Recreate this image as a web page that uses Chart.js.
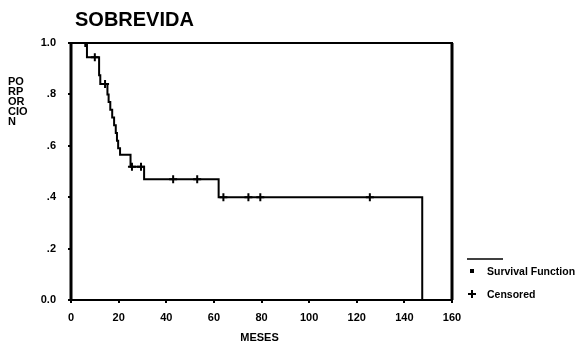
<!DOCTYPE html>
<html>
<head>
<meta charset="utf-8">
<script src="https://cdn.jsdelivr.net/npm/chart.js@4.4.0/dist/chart.umd.min.js"></script>
<style>
  html, body { margin: 0; padding: 0; background: #fff; }
  #wrap { width: 586px; height: 353px; position: relative; }
</style>
</head>
<body>
<div id="wrap"><canvas id="chart"></canvas></div>
<script>
// Kaplan-Meier curve (month of event, survival after event)
const kmMonths   = [0, 6.7, 11.8, 12.3, 15.3, 15.8, 16.5, 17.3, 18.1, 18.8, 19.3, 19.8, 20.6, 25.0, 30.7, 62.0, 147.5];
const kmSurvival = [1.0, 0.945, 0.875, 0.84, 0.80, 0.77, 0.74, 0.71, 0.68, 0.65, 0.62, 0.59, 0.565, 0.518, 0.47, 0.40, 0.0];

// censored cases
const censoredMonths   = [6, 10, 14.3, 25.6, 29.4, 42.9, 53, 64, 74.5, 79.5, 125.5];
const censoredSurvival = [1.0, 0.945, 0.84, 0.518, 0.518, 0.47, 0.47, 0.40, 0.40, 0.40, 0.40];

const xTicks = [0, 20, 40, 60, 80, 100, 120, 140, 160];
const yTickLabels = ['0.0', '.2', '.4', '.6', '.8', '1.0'];

const titleText = 'SOBREVIDA';
const xTitle = 'MESES';
const yTitleLines = ['PO', 'RP', 'OR', 'CIO', 'N'];
const legendLabels = ['Survival Function', 'Censored'];

const FONT = '"Liberation Sans", Arial, sans-serif';

const kmData = kmMonths.map((m, i) => ({x: m, y: kmSurvival[i]}));
const censData = censoredMonths.map((m, i) => ({x: m, y: censoredSurvival[i]}));

// frame, titles and legend
const decor = {
    id: 'decor',
    afterDraw(chart) {
        const ctx = chart.ctx;
        const a = chart.chartArea;
        ctx.save();
        ctx.strokeStyle = '#000';
        ctx.lineWidth = 2;
        ctx.strokeRect(a.left, a.top, a.right - a.left, a.bottom - a.top);
        ctx.lineWidth = 3;
        ctx.beginPath();
        ctx.moveTo(a.left, a.top); ctx.lineTo(a.left, a.bottom);
        ctx.moveTo(a.right, a.top); ctx.lineTo(a.right, a.bottom);
        ctx.stroke();

        ctx.fillStyle = '#000';
        ctx.textBaseline = 'alphabetic';
        ctx.textAlign = 'left';
        ctx.font = 'bold 20px ' + FONT;
        ctx.fillText(titleText, 75, 26);

        ctx.font = 'bold 11px ' + FONT;
        yTitleLines.forEach((t, i) => ctx.fillText(t, 8, 85 + i * 10));

        ctx.textAlign = 'center';
        ctx.font = 'bold 11px ' + FONT;
        ctx.fillText(xTitle, (a.left + a.right) / 2 - 2, 341);

        // legend
        ctx.lineWidth = 1.5;
        ctx.beginPath();
        ctx.moveTo(467, 259); ctx.lineTo(503, 259);
        ctx.stroke();
        ctx.fillRect(470, 269, 4, 4);
        ctx.lineWidth = 2;
        ctx.beginPath();
        ctx.moveTo(468, 294); ctx.lineTo(476, 294);
        ctx.moveTo(472, 290); ctx.lineTo(472, 298);
        ctx.stroke();
        ctx.textAlign = 'left';
        ctx.textBaseline = 'middle';
        ctx.font = 'bold 10.5px ' + FONT;
        ctx.fillText(legendLabels[0], 487, 272);
        ctx.fillText(legendLabels[1], 487, 295);
        ctx.restore();
    }
};

new Chart(document.getElementById('chart'), {
    type: 'line',
    data: {
        datasets: [{
            label: legendLabels[0],
            data: kmData,
            stepped: true,
            borderColor: '#000',
            borderWidth: 2,
            pointRadius: 0,
            fill: false
        }, {
            label: legendLabels[1],
            data: censData,
            showLine: false,
            pointStyle: 'cross',
            pointRadius: 4,
            pointBorderWidth: 2,
            borderColor: '#000',
            backgroundColor: '#000'
        }]
    },
    options: {
        responsive: true,
        maintainAspectRatio: false,
        animation: false,
        layout: {padding: {left: 0, right: 134, top: 43, bottom: 0}},
        plugins: {legend: {display: false}, tooltip: {enabled: false}, title: {display: false}},
        scales: {
            x: {
                type: 'linear',
                min: 0, max: 160,
                afterFit(s) { s.height = 53; },
                afterBuildTicks(s) { s.ticks = xTicks.map(v => ({value: v})); },
                grid: {drawOnChartArea: false, drawTicks: true, tickLength: 3, lineWidth: 2, color: '#000'},
                border: {display: false},
                ticks: {padding: 8, color: '#000', maxRotation: 0, font: {family: FONT, size: 11, weight: 'bold'}}
            },
            y: {
                min: 0, max: 1,
                afterFit(s) { s.width = 71; },
                grid: {drawOnChartArea: false, drawTicks: true, tickLength: 3, lineWidth: 2, color: '#000'},
                border: {display: false},
                ticks: {
                    stepSize: 0.2, padding: 12, color: '#000',
                    font: {family: FONT, size: 11, weight: 'bold'},
                    callback: (v, i) => yTickLabels[i]
                }
            }
        }
    },
    plugins: [decor]
});
</script>
</body>
</html>
